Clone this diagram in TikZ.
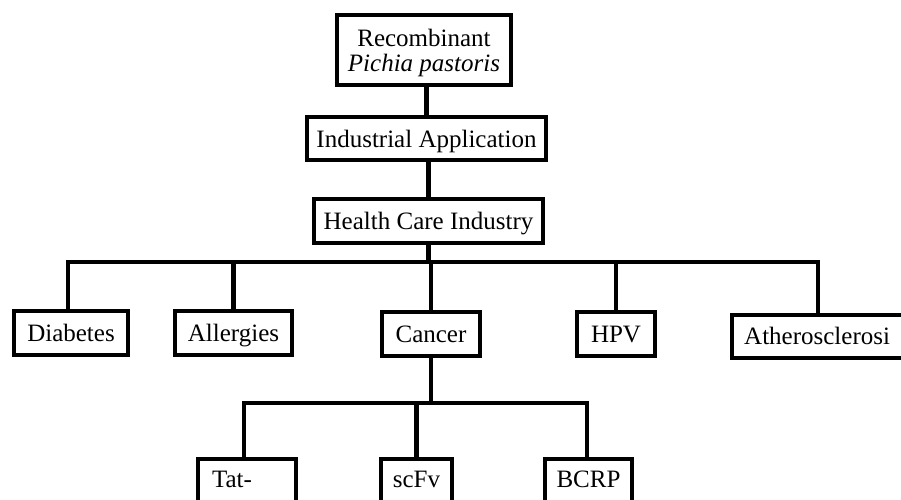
\documentclass[tikz,border=0pt]{standalone}
\usepackage{fontspec}
\setmainfont{Liberation Serif}
\begin{document}
\begin{tikzpicture}[x=1pt,y=-1pt,
  box/.style={draw, line width=4.4pt, inner sep=0pt, text height=17pt, text depth=0pt,
    font=\fontsize{25}{25}\selectfont, minimum height=44pt},
  conn/.style={line width=4.2pt, line join=miter}]
\useasboundingbox (0,0) rectangle (901,499);
\clip (0,0) rectangle (901,499);

\node[box, minimum width=174pt, minimum height=70pt, align=center, text height=42pt] (rec) at (424,50) {Recombinant\\\textit{Pichia pastoris}};
\node[box, minimum width=239pt, minimum height=43pt] (ind) at (426.5,138.5) {Industrial Application};
\node[box, minimum width=229pt] (hc) at (428.5,221) {Health Care Industry};

\node[box, minimum width=114pt] (diab) at (71,333) {Diabetes};
\node[box, minimum width=117pt] (allg) at (233.5,333) {Allergies};
\node[box, minimum width=98pt] (canc) at (431,334) {Cancer};
\node[box, minimum width=78pt] (hpv) at (616,334) {HPV};
\node[box, anchor=north west, minimum height=43pt, text height=29pt, text depth=14pt,
  inner xsep=12pt, text width=200pt, align=left] (ath) at (730,313) {Atherosclerosi};

\node[box, anchor=north, text height=28pt, text depth=60pt, inner xsep=14pt,
  text width=70pt, align=left] (tat) at (247,457) {Tat-};
\node[box, anchor=north, text height=28pt, text depth=60pt, minimum width=71pt] (scfv) at (416.5,457) {scFv};
\node[box, anchor=north, text height=28pt, text depth=60pt, minimum width=87pt] (bcrp) at (588.5,457) {BCRP};

\coordinate (busL) at (68,262);
\coordinate (busR) at (818,262);
\coordinate (subL) at (244,403);
\coordinate (subR) at (587,403);

\draw[conn] (ind.north) -- (ind.north |- rec.south);
\draw[conn] (hc.north) -- (hc.north |- ind.south);
\draw[conn] (hc.south) -- (hc.south |- busL);
\draw[conn] (busL |- diab.north) -- (busL) -- (busR) -- (busR |- ath.north);
\draw[conn] (allg.north) -- (allg.north |- busL);
\draw[conn] (canc.north) -- (canc.north |- busL);
\draw[conn] (hpv.north) -- (hpv.north |- busL);
\draw[conn] (canc.south) -- (canc.south |- subL);
\draw[conn] (subL |- tat.north) -- (subL) -- (subR) -- (subR |- bcrp.north);
\draw[conn] (scfv.north) -- (scfv.north |- subL);
\end{tikzpicture}
\end{document}
